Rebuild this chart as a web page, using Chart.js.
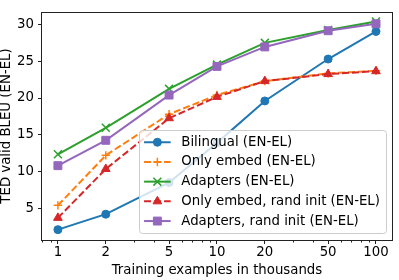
<!DOCTYPE html>
<html><head><meta charset="utf-8">
<script src="https://cdn.jsdelivr.net/npm/chart.js@4/dist/chart.umd.min.js"></script>
<style>html,body{margin:0;padding:0;background:#fff;} canvas{display:block;}</style>
</head><body>
<canvas id="c" width="399" height="280"></canvas>
<script>
// ---- data ----
const trainingThousands = [1, 2, 5, 10, 20, 50, 100];
const xTickLabels = ['1', '2', '5', '10', '20', '50', '100'];
const xMinorTicks = [0.8, 0.9, 3, 4, 6, 7, 8, 9, 30, 40, 60, 70, 80, 90];
const yTickValues = [5, 10, 15, 20, 25, 30];
const seriesNames = [
  'Bilingual (EN-EL)',
  'Only embed (EN-EL)',
  'Adapters (EN-EL)',
  'Only embed, rand init (EN-EL)',
  'Adapters, rand init (EN-EL)'
];
const bilingual     = [2.1, 4.2, 8.5, 13.9, 19.6, 25.3, 29.05];
const onlyEmbed     = [5.4, 12.2, 17.8, 20.4, 22.3, 23.35, 23.7];
const adapters      = [12.35, 15.95, 21.25, 24.55, 27.5, 29.25, 30.4];
const onlyEmbedRand = [3.7, 10.35, 17.25, 20.15, 22.3, 23.25, 23.65];
const adaptersRand  = [10.8, 14.25, 20.4, 24.3, 26.95, 29.15, 30.1];

const FONT = '"DejaVu Sans", sans-serif';
const FS = 13.3;
Chart.defaults.font.family = FONT;
Chart.defaults.font.size = FS;
Chart.defaults.color = '#000';

const pts = arr => arr.map((v, i) => ({x: trainingThousands[i], y: v}));
function series(label, data, color, style, radius, dashed, order, bw) {
  return {
    label, data: pts(data), borderColor: color, backgroundColor: color,
    pointBackgroundColor: color, pointBorderColor: color,
    pointStyle: style, pointRadius: radius, pointHoverRadius: radius,
    pointBorderWidth: bw, borderWidth: 2, borderDash: dashed ? [7, 3] : [],
    tension: 0, fill: false, order
  };
}

const frame = {
  id: 'frame',
  afterDatasetsDraw(chart) {
    const {ctx, chartArea: a, scales: {x}} = chart;
    ctx.save();
    ctx.strokeStyle = '#222';
    ctx.lineWidth = 1;
    const l = Math.round(a.left), t = Math.round(a.top), r = Math.round(a.right), b = Math.round(a.bottom);
    ctx.strokeRect(l - 0.5, t + 0.5, r - l + 1, b - t);
    ctx.beginPath();
    xMinorTicks.forEach(v => {
      const px = Math.round(x.getPixelForValue(v)) + 0.5;
      ctx.moveTo(px, b); ctx.lineTo(px, b + 2.5);
    });
    ctx.stroke();
    ctx.restore();
  }
};

const legendBox = {
  id: 'legendBox',
  afterDraw(chart) {
    const {ctx, chartArea: a} = chart;
    const ds = chart.data.datasets;
    ctx.save();
    ctx.font = FS + 'px ' + FONT;
    const maxW = Math.max(...ds.map(d => ctx.measureText(d.label).width));
    const pad = 0.4 * FS, handleLen = 2 * FS, textPad = 0.8 * FS, rowH = 19.7, inset = 12.3, axPad = 0.5 * FS;
    const w = pad * 2 + handleLen + textPad + maxW;
    const h = inset * 2 + rowH * (ds.length - 1);
    const right = a.right - axPad, bottom = a.bottom - axPad;
    const left = right - w, top = bottom - h;
    ctx.beginPath();
    ctx.roundRect(Math.round(left) + 0.5, Math.round(top) + 0.5, Math.round(w), Math.round(h), 3);
    ctx.fillStyle = 'rgba(255,255,255,0.8)';
    ctx.fill();
    ctx.strokeStyle = '#cccccc';
    ctx.lineWidth = 1;
    ctx.stroke();
    ds.forEach((d, i) => {
      const y = top + inset + i * rowH;
      const x0 = left + pad, x1 = x0 + handleLen;
      ctx.beginPath();
      ctx.strokeStyle = d.borderColor;
      ctx.lineWidth = d.borderWidth;
      ctx.setLineDash(d.borderDash || []);
      ctx.moveTo(x0, y); ctx.lineTo(x1, y);
      ctx.stroke();
      ctx.setLineDash([]);
      ctx.fillStyle = d.pointBackgroundColor;
      ctx.strokeStyle = d.pointBorderColor;
      ctx.lineWidth = d.pointBorderWidth;
      Chart.helpers.drawPoint(ctx, {pointStyle: d.pointStyle, radius: d.pointRadius, rotation: 0, borderWidth: d.pointBorderWidth}, (x0 + x1) / 2, y);
      ctx.fillStyle = '#000';
      ctx.textBaseline = 'middle';
      ctx.textAlign = 'left';
      ctx.fillText(d.label, x1 + textPad, y);
    });
    ctx.restore();
  }
};

new Chart(document.getElementById('c'), {
  type: 'line',
  data: {
    datasets: [
      series(seriesNames[0], bilingual, '#1f77b4', 'circle', 4, false, 5, 1),
      series(seriesNames[1], onlyEmbed, '#ff7f0e', 'cross', 4.2, true, 4, 1.5),
      series(seriesNames[2], adapters, '#2ca02c', 'crossRot', 5.6, false, 3, 1.5),
      series(seriesNames[3], onlyEmbedRand, '#d62728', 'triangle', 5, true, 2, 1),
      series(seriesNames[4], adaptersRand, '#9467bd', 'rect', 5.6, false, 1, 1)
    ]
  },
  options: {
    responsive: false,
    animation: false,
    layout: {padding: {top: 0, right: 2, left: 0, bottom: 0}},
    plugins: {legend: {display: false}, tooltip: {enabled: false}},
    scales: {
      x: {
        type: 'logarithmic',
        min: Math.pow(10, -0.1), max: Math.pow(10, 2.1),
        afterBuildTicks: s => { s.ticks = trainingThousands.map(v => ({value: v})); },
        afterFit: s => { s.height = 40; },
        ticks: {autoSkip: false, maxRotation: 0, padding: 1,
          callback: (v, i) => xTickLabels[i]},
        grid: {drawOnChartArea: false, drawTicks: true, tickLength: 4, tickColor: '#222'},
        border: {display: false},
        title: {display: true, text: 'Training examples in thousands',
          font: {size: FS, lineHeight: 1}, padding: {top: 0, bottom: 2.5}}
      },
      y: {
        type: 'linear',
        min: 0.69, max: 31.7,
        afterBuildTicks: s => { s.ticks = yTickValues.map(v => ({value: v})); },
        afterFit: s => { s.width = 42; },
        ticks: {padding: 4, callback: v => String(v)},
        grid: {drawOnChartArea: false, drawTicks: true, tickLength: 4, tickColor: '#222'},
        border: {display: false},
        title: {display: true, text: 'TED valid BLEU (EN-EL)',
          font: {size: FS, lineHeight: 1}, padding: {top: 0, bottom: 0}}
      }
    }
  },
  plugins: [frame, legendBox]
});
</script>
</body></html>
